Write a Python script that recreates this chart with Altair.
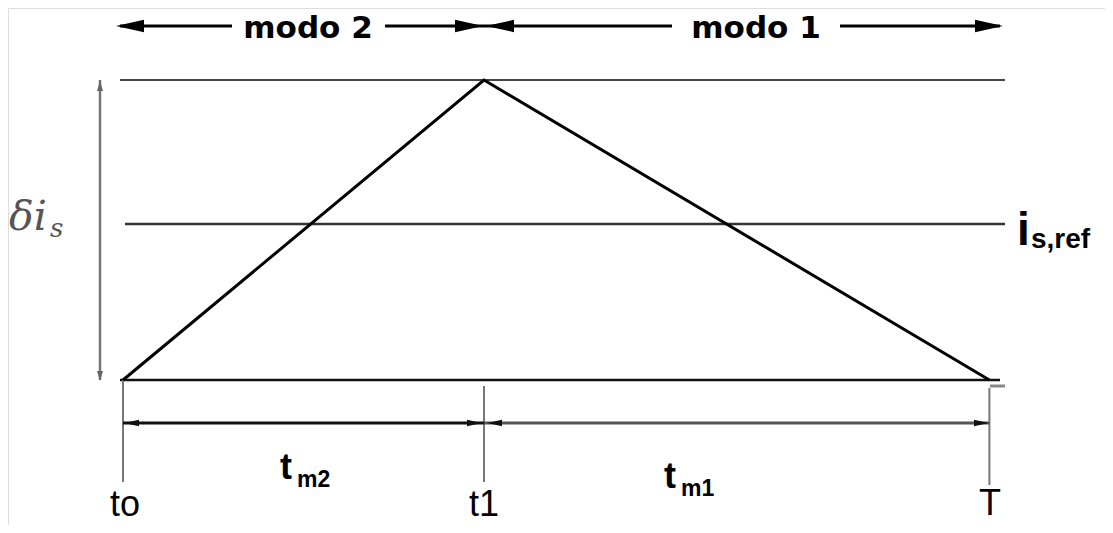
import altair as alt
import pandas as pd

# ---- diagram values (time in units of t1 - to, current in units of delta i_s) ----
event_labels = ["to", "t1", "T"]
event_times = [0.0, 1.0, 2.40]
wave_times = [0.0, 1.0, 2.40]
wave_current = [0.0, 1.0, 0.0]
band_low = 0.0
band_high = 1.0
ref_level = 0.52
mode_labels = ["modo 2", "modo 1"]
interval_main = ["t", "t"]
interval_subs = ["m2", "m1"]

# ---- layout helpers (image pixels -> data units) ----
X0, XS = 123.0, 361.0
Y0, YS = 380.0, 300.0


def tx(px):
    return (px - X0) / XS


def iy(py):
    return (Y0 - py) / YS


W, H = 1097, 517
xs = alt.Scale(domain=[tx(8), tx(8 + W)], nice=False, zero=False)
ys = alt.Scale(domain=[iy(8 + H), iy(8)], nice=False, zero=False)

t0, t1, tT = event_times

# ---- rule segments ----
rules = []


def seg(xa, xb, ya, yb, c, w):
    rules.append({"x": xa, "x2": xb, "y": ya, "y2": yb, "c": c, "w": w})


seg(tx(120), tx(1005), band_high, band_high, "#444444", 2)
seg(tx(125), tx(1005), ref_level, ref_level, "#333333", 2.5)
seg(tx(120), tx(1000), band_low, band_low, "#111111", 2.5)
seg(tx(990), tx(1005), iy(386), iy(386), "#888888", 3)
# left delta arrow shaft
seg(tx(100), tx(100), band_low, band_high, "#777777", 2.5)
# top mode arrows
top = iy(26)
seg(tx(120), tx(232), top, top, "#000000", 3)
seg(tx(385), t1, top, top, "#000000", 3)
seg(t1, tx(672), top, top, "#000000", 3)
seg(tx(840), tx(1000), top, top, "#000000", 3)
# vertical ticks
seg(t0, t0, band_low, iy(482), "#777777", 2)
seg(t1, t1, iy(386), iy(482), "#777777", 2)
seg(tT, tT, iy(388), iy(485), "#777777", 2)
# dimension arrows
dim = iy(423)
seg(t0, t1, dim, dim, "#111111", 3)
seg(t1, tT, dim, dim, "#555555", 3)
rules_df = pd.DataFrame(rules)

rule_layer = alt.Chart(rules_df).mark_rule().encode(
    x=alt.X("x:Q", scale=xs, axis=None),
    x2="x2:Q",
    y=alt.Y("y:Q", scale=ys, axis=None),
    y2="y2:Q",
    color=alt.Color("c:N", scale=None),
    strokeWidth=alt.StrokeWidth("w:Q", scale=None),
)

wave_df = pd.DataFrame({"t": wave_times, "i": wave_current, "o": [0, 1, 2]})
wave_layer = alt.Chart(wave_df).mark_line(color="#000000", strokeWidth=3).encode(
    x=alt.X("t:Q", scale=xs, axis=None),
    y=alt.Y("i:Q", scale=ys, axis=None),
    order="o:Q",
)

# ---- arrowheads (custom symbol paths with tip at origin) ----
RIGHT = "M0,0 L-1,-0.22 L-1,0.22 Z"
LEFT = "M0,0 L1,-0.22 L1,0.22 Z"
UP = "M0,0 L-0.3,1 L0.3,1 Z"
DOWN = "M0,0 L-0.3,-1 L0.3,-1 Z"
heads = [
    {"x": tx(116), "y": top, "s": LEFT, "z": 56 ** 2, "c": "#000000"},
    {"x": tx(483), "y": top, "s": RIGHT, "z": 56 ** 2, "c": "#000000"},
    {"x": tx(486), "y": top, "s": LEFT, "z": 56 ** 2, "c": "#000000"},
    {"x": tx(1003), "y": top, "s": RIGHT, "z": 56 ** 2, "c": "#000000"},
    {"x": tx(100), "y": iy(81), "s": UP, "z": 20 ** 2, "c": "#666666"},
    {"x": tx(100), "y": iy(381), "s": DOWN, "z": 20 ** 2, "c": "#666666"},
    {"x": tx(124), "y": dim, "s": LEFT, "z": 30 ** 2, "c": "#111111"},
    {"x": tx(482), "y": dim, "s": RIGHT, "z": 30 ** 2, "c": "#111111"},
    {"x": tx(487), "y": dim, "s": LEFT, "z": 30 ** 2, "c": "#111111"},
    {"x": tx(989), "y": dim, "s": RIGHT, "z": 30 ** 2, "c": "#111111"},
]
heads_df = pd.DataFrame(heads)
head_layer = alt.Chart(heads_df).mark_point(filled=True, opacity=1, strokeWidth=0).encode(
    x=alt.X("x:Q", scale=xs, axis=None),
    y=alt.Y("y:Q", scale=ys, axis=None),
    shape=alt.Shape("s:N", scale=None),
    size=alt.Size("z:Q", scale=None),
    color=alt.Color("c:N", scale=None),
)


def text_layer(df, **kw):
    return alt.Chart(df).mark_text(**kw).encode(
        x=alt.X("x:Q", scale=xs, axis=None),
        y=alt.Y("y:Q", scale=ys, axis=None),
        text="label:N",
    )


mode_df = pd.DataFrame({"label": mode_labels, "x": [tx(308), tx(756)], "y": [iy(38), iy(38)]})
mode_layer = text_layer(mode_df, font="DejaVu Sans", fontWeight="bold", fontSize=31,
                        align="center", baseline="alphabetic", color="#000000")

event_df = pd.DataFrame({"label": event_labels, "x": [tx(125), t1, tx(990)],
                         "y": [iy(516), iy(516), iy(515)]})
event_layer = text_layer(event_df, font="Liberation Sans", fontSize=36,
                         align="center", baseline="alphabetic", color="#000000")

tm_df = pd.DataFrame({"label": interval_main, "x": [tx(280), tx(664)], "y": [iy(479), iy(488)]})
tm_layer = text_layer(tm_df, font="Liberation Sans", fontWeight="bold", fontSize=36,
                      align="left", baseline="alphabetic", color="#000000")
tsub_df = pd.DataFrame({"label": interval_subs, "x": [tx(297), tx(681)], "y": [iy(487), iy(496)]})
tsub_layer = text_layer(tsub_df, font="Liberation Sans", fontWeight="bold", fontSize=23,
                        align="left", baseline="alphabetic", color="#000000")

iref_df = pd.DataFrame({"label": ["i"], "x": [tx(1017)], "y": [iy(245)]})
iref_layer = text_layer(iref_df, font="Liberation Sans", fontWeight="bold", fontSize=46,
                        align="left", baseline="alphabetic", color="#000000")
iref_sub_df = pd.DataFrame({"label": ["s,ref"], "x": [tx(1031)], "y": [iy(248)]})
iref_sub_layer = text_layer(iref_sub_df, font="Liberation Sans", fontWeight="bold", fontSize=28,
                            align="left", baseline="alphabetic", color="#000000")

di_df = pd.DataFrame({"label": ["δi"], "x": [tx(9)], "y": [iy(230)]})
di_layer = text_layer(di_df, font="DejaVu Serif", fontStyle="italic", fontSize=41,
                      align="left", baseline="alphabetic", color="#555555")
di_sub_df = pd.DataFrame({"label": ["s"], "x": [tx(50)], "y": [iy(237)]})
di_sub_layer = text_layer(di_sub_df, font="DejaVu Serif", fontStyle="italic", fontSize=26,
                          align="left", baseline="alphabetic", color="#555555")

chart = alt.layer(
    rule_layer, wave_layer, head_layer, mode_layer, event_layer, tm_layer, tsub_layer,
    iref_layer, iref_sub_layer, di_layer, di_sub_layer,
).properties(
    width=W, height=H, autosize=alt.AutoSizeParams(type="none"), padding=0,
).configure_view(stroke=None).configure(background="#ffffff")

chart.save("out.html", embed_options={"renderer": "svg", "actions": False})
